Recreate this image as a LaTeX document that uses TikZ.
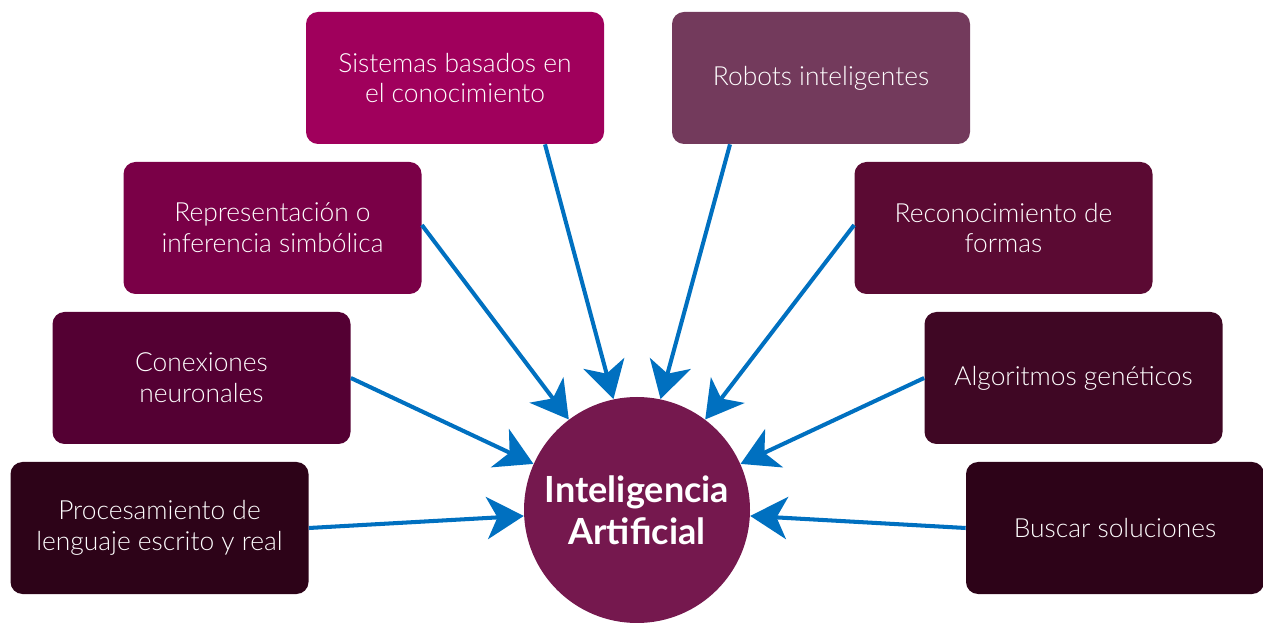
\documentclass[tikz,border=0pt]{standalone}
\usepackage{fontspec}
\setmainfont{Lato}[UprightFont=* Light,BoldFont=* Bold]
\usetikzlibrary{positioning}
\usetikzlibrary{arrows.meta}
\definecolor{arrowblue}{HTML}{0070C0}
\definecolor{sistcol}{HTML}{A0005C}
\definecolor{robotcol}{HTML}{733A5C}
\definecolor{reprcol}{HTML}{7A0047}
\definecolor{reconcol}{HTML}{5B0A33}
\definecolor{conexcol}{HTML}{540033}
\definecolor{algocol}{HTML}{3F0724}
\definecolor{proccol}{HTML}{2D0318}
\definecolor{iacol}{HTML}{75184E}
\tikzset{
  topic/.style={rectangle,rounded corners=0.24cm,minimum width=5.96cm,minimum height=2.64cm,
    text=white,align=center,font=\fontsize{15}{17.6}\selectfont},
  feed/.style={draw=arrowblue,line width=2.3pt,-{Stealth[length=21pt,width=24pt,inset=6pt]}}
}

\begin{document}
\begin{tikzpicture}
\useasboundingbox (0,0) rectangle (25.26,12.44);
\node[circle,fill=iacol,minimum size=4.52cm,text=white,align=center,font=\fontsize{20.5}{24}\selectfont\bfseries] (ia) at (12.74,2.24) {Inteligencia\\Artificial};

\node[topic,fill=sistcol] (sist) at (9.10,10.88) {Sistemas basados en\\el conocimiento};
\node[topic,fill=robotcol] (robot) at (16.42,10.88) {Robots inteligentes};
\node[topic,fill=reprcol] (repr) at (5.45,7.88) {Representación o\\inferencia simbólica};
\node[topic,fill=reconcol] (recon) at (20.07,7.88) {Reconocimiento de\\formas};
\node[topic,fill=conexcol] (conex) at (4.03,4.88) {Conexiones\\neuronales};
\node[topic,fill=algocol] (algo) at (21.47,4.88) {Algoritmos genéticos};
\node[topic,fill=proccol] (proc) at (3.19,1.88) {Procesamiento de\\lenguaje escrito y real};
\node[topic,fill=proccol] (busc) at (22.30,1.88) {Buscar soluciones};

\draw[feed] ([xshift=1.8cm]sist.south) -- (ia.102);
\draw[feed] ([xshift=-1.82cm]robot.south) -- (ia.78);
\draw[feed] ([yshift=0.06cm]repr.east) -- (ia.127);
\draw[feed] ([yshift=0.06cm]recon.west) -- (ia.53);
\draw[feed] (conex.east) -- (ia.156);
\draw[feed] (algo.west) -- (ia.24);
\draw[feed] (proc.east) -- (ia.183.5);
\draw[feed] (busc.west) -- (ia.-3.5);
\end{tikzpicture}
\end{document}
